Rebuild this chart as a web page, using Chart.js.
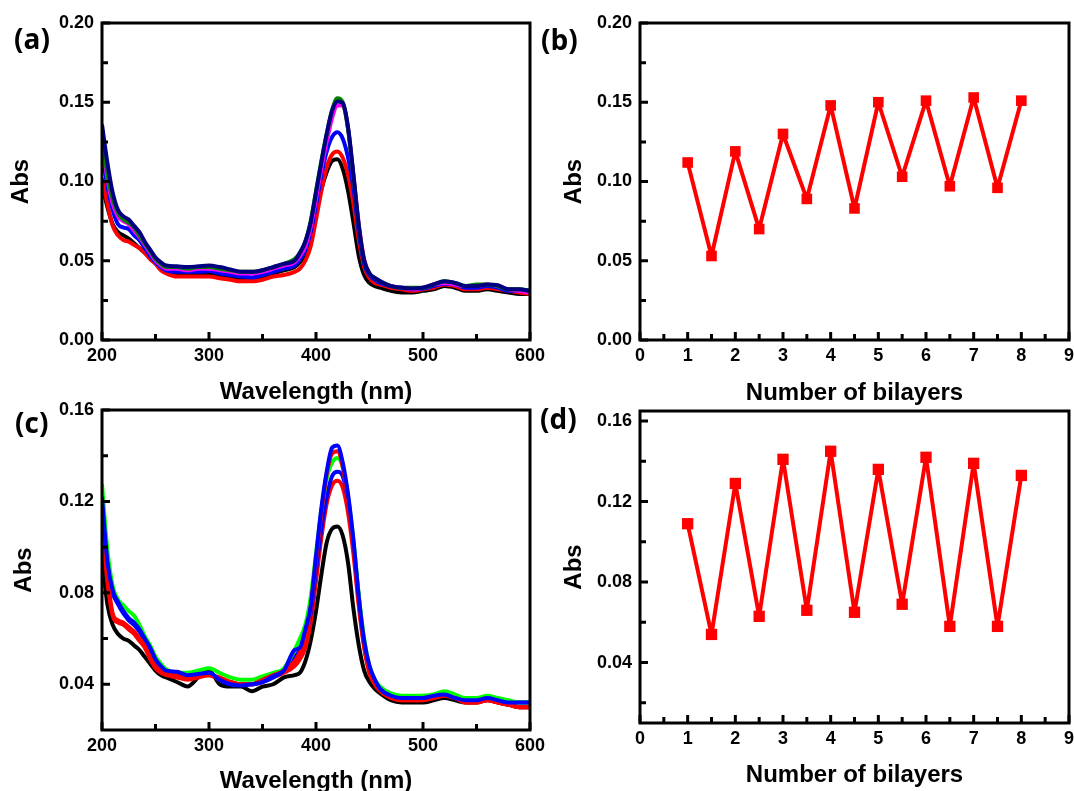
<!DOCTYPE html>
<html>
<head>
<meta charset="utf-8">
<script src="https://cdn.jsdelivr.net/npm/chart.js@4/dist/chart.umd.min.js"></script>
<style>
html, body { margin:0; padding:0; background:#fff; width:1074px; height:791px; overflow:hidden; }
canvas { position:absolute; }
.lbl { position:absolute; font:bold 28px "Open Sans", sans-serif; line-height:1; color:#000; }
</style>
</head>
<body>
<canvas id="ca" width="575" height="420" style="left:0;top:0"></canvas>
<canvas id="cb" width="559" height="420" style="left:545px;top:0"></canvas>
<canvas id="cc" width="575" height="420" style="left:0;top:390px"></canvas>
<canvas id="cd" width="559" height="420" style="left:545px;top:390px"></canvas>
<div class="lbl" style="left:14px;top:24px">(a)</div>
<div class="lbl" style="left:541px;top:25px">(b)</div>
<div class="lbl" style="left:15px;top:408px">(c)</div>
<div class="lbl" style="left:540px;top:404px">(d)</div>
<script>
// wavelengths (nm) shared by panels a and c
const wl = [200,205,210,215,220,225,230,235,240,245,250,255,260,
  270,280,290,300,310,320,330,340,350,360,370,380,
  385,390,395,400,405,410,415,420,425,430,435,440,445,450,455,460,
  470,480,490,500,510,520,530,540,550,560,570,580,590,600];

// panel (a) spectra
const aBlack = [0.098,0.084,0.073,0.068,0.066,0.064,0.061,0.058,0.055,0.052,0.049,0.046,0.044,
  0.042,0.042,0.042,0.042,0.041,0.040,0.039,0.039,0.040,0.042,0.044,0.046,
  0.049,0.054,0.064,0.080,0.095,0.106,0.113,0.114,0.108,0.094,0.074,0.053,0.041,0.036,0.034,0.033,
  0.031,0.030,0.030,0.031,0.032,0.034,0.033,0.031,0.031,0.032,0.031,0.030,0.029,0.029];
const aRed = [0.102,0.086,0.072,0.066,0.063,0.062,0.060,0.058,0.055,0.051,0.048,0.044,0.042,
  0.040,0.040,0.040,0.040,0.039,0.038,0.037,0.037,0.038,0.040,0.041,0.043,
  0.045,0.050,0.059,0.076,0.094,0.109,0.117,0.119,0.115,0.104,0.086,0.063,0.046,0.039,0.036,0.035,
  0.033,0.032,0.031,0.032,0.033,0.035,0.034,0.032,0.032,0.033,0.032,0.031,0.030,0.029];
const aBlue = [0.119,0.097,0.082,0.073,0.071,0.070,0.066,0.063,0.058,0.053,0.049,0.046,0.044,
  0.043,0.043,0.043,0.0435,0.042,0.041,0.040,0.0395,0.041,0.043,0.045,0.047,
  0.051,0.057,0.068,0.085,0.104,0.119,0.128,0.131,0.127,0.115,0.096,0.068,0.048,0.041,0.038,0.036,
  0.034,0.033,0.032,0.0325,0.034,0.0355,0.035,0.033,0.033,0.034,0.033,0.031,0.031,0.030];
const aMagenta = [0.125,0.102,0.086,0.078,0.075,0.073,0.069,0.065,0.060,0.055,0.050,0.047,0.045,
  0.045,0.044,0.045,0.045,0.044,0.043,0.042,0.042,0.043,0.045,0.047,0.049,
  0.053,0.059,0.071,0.089,0.108,0.125,0.140,0.148,0.148,0.133,0.104,0.073,0.051,0.042,0.039,0.037,
  0.034,0.033,0.032,0.033,0.035,0.036,0.035,0.034,0.034,0.035,0.034,0.032,0.031,0.030];
const aGreen = [0.130,0.105,0.089,0.080,0.076,0.074,0.071,0.066,0.061,0.056,0.051,0.048,0.046,
  0.046,0.045,0.046,0.046,0.045,0.044,0.043,0.043,0.044,0.046,0.048,0.051,
  0.055,0.062,0.075,0.094,0.113,0.130,0.145,0.1525,0.150,0.133,0.103,0.072,0.050,0.042,0.039,0.037,
  0.034,0.033,0.033,0.033,0.035,0.037,0.036,0.034,0.035,0.035,0.034,0.032,0.032,0.031];
const aNavy = [0.136,0.112,0.093,0.082,0.078,0.076,0.072,0.068,0.062,0.057,0.052,0.049,0.047,
  0.0465,0.046,0.0465,0.047,0.046,0.0445,0.043,0.043,0.044,0.046,0.048,0.050,
  0.055,0.062,0.074,0.093,0.112,0.130,0.1445,0.1505,0.1495,0.134,0.104,0.072,0.050,0.042,0.039,0.037,
  0.034,0.033,0.0325,0.033,0.035,0.037,0.036,0.034,0.034,0.035,0.0345,0.032,0.032,0.031];

// panel (c) spectra
const cBlack = [0.096,0.075,0.066,0.062,0.060,0.059,0.057,0.055,0.052,0.049,0.046,0.044,0.043,
  0.041,0.039,0.043,0.046,0.040,0.039,0.039,0.037,0.039,0.040,0.043,0.044,
  0.045,0.050,0.059,0.072,0.088,0.102,0.108,0.109,0.105,0.093,0.073,0.057,0.046,0.041,0.038,0.036,
  0.033,0.032,0.032,0.032,0.033,0.034,0.033,0.032,0.032,0.033,0.032,0.031,0.030,0.030];
const cRed2 = [0.110,0.085,0.070,0.067,0.066,0.064,0.062,0.059,0.056,0.051,0.047,0.045,0.044,
  0.043,0.042,0.043,0.044,0.042,0.041,0.040,0.040,0.041,0.043,0.045,0.048,
  0.051,0.056,0.067,0.085,0.104,0.119,0.127,0.129,0.126,0.115,0.097,0.074,0.056,0.045,0.040,0.037,
  0.034,0.033,0.033,0.033,0.034,0.035,0.034,0.032,0.032,0.033,0.032,0.031,0.030,0.030];
const cBlue2 = [0.118,0.092,0.080,0.075,0.071,0.068,0.066,0.063,0.059,0.055,0.050,0.047,0.046,
  0.045,0.044,0.044,0.045,0.042,0.040,0.040,0.040,0.041,0.043,0.046,0.052,
  0.055,0.062,0.071,0.090,0.108,0.122,0.131,0.133,0.131,0.120,0.101,0.078,0.058,0.047,0.041,0.038,
  0.035,0.034,0.034,0.034,0.035,0.0355,0.034,0.033,0.033,0.034,0.033,0.032,0.032,0.032];
const cGreen = [0.1275,0.099,0.083,0.077,0.0745,0.072,0.070,0.066,0.061,0.057,0.052,0.049,0.0465,
  0.045,0.045,0.046,0.047,0.045,0.043,0.042,0.042,0.0435,0.045,0.047,0.055,
  0.060,0.066,0.078,0.097,0.116,0.130,0.137,0.139,0.135,0.122,0.103,0.079,0.060,0.048,0.042,0.039,
  0.036,0.035,0.035,0.035,0.0355,0.037,0.0355,0.034,0.034,0.035,0.034,0.033,0.032,0.032];
const cRed1 = [0.114,0.088,0.071,0.068,0.067,0.065,0.063,0.060,0.057,0.052,0.048,0.046,0.045,
  0.044,0.043,0.044,0.044,0.043,0.041,0.040,0.040,0.042,0.044,0.046,0.050,
  0.054,0.060,0.073,0.094,0.115,0.132,0.141,0.142,0.135,0.120,0.100,0.076,0.057,0.045,0.040,0.037,
  0.034,0.033,0.033,0.033,0.034,0.035,0.034,0.032,0.032,0.033,0.032,0.031,0.030,0.030];
const cBlue1 = [0.122,0.094,0.081,0.076,0.072,0.069,0.067,0.064,0.060,0.056,0.051,0.048,0.046,
  0.0455,0.044,0.0445,0.045,0.042,0.040,0.0395,0.040,0.041,0.0435,0.046,0.055,
  0.056,0.064,0.074,0.096,0.117,0.133,0.1435,0.1445,0.137,0.123,0.103,0.078,0.059,0.048,0.042,0.038,
  0.035,0.034,0.034,0.034,0.035,0.0355,0.034,0.033,0.033,0.034,0.033,0.032,0.032,0.032];

// panels (b) and (d): peak absorbance vs number of bilayers
const bilayers = [1,1.5,2,2.5,3,3.5,4,4.5,5,5.5,6,6.5,7,7.5,8];
const absB = [0.112,0.053,0.119,0.070,0.130,0.089,0.148,0.083,0.150,0.103,0.151,0.097,0.153,0.096,0.151];
const absD = [0.109,0.054,0.129,0.063,0.141,0.066,0.145,0.065,0.136,0.069,0.142,0.058,0.139,0.058,0.133];

// tick positions
const wlTicks = [200,300,400,500,600];
const wlMinor = [250,350,450,550];
const layerTicks = [0,1,2,3,4,5,6,7,8,9];
const layerMinor = [0.5,1.5,2.5,3.5,4.5,5.5,6.5,7.5,8.5];
const absTicksAB = [0,0.05,0.10,0.15,0.20];
const absMinorAB = [0.025,0.075,0.125,0.175];
const absTicksCD = [0.04,0.08,0.12,0.16];
const absMinorC = [0.06,0.10,0.14];
const absMinorD = [0.02,0.06,0.10,0.14];

const FONT = '"Liberation Sans", Arial, sans-serif';

// box frame + inward ticks like the original plot
const frame = {
  id: 'frame',
  afterDraw(chart, args, o) {
    const { ctx, chartArea: a, scales: { x, y } } = chart;
    ctx.save();
    ctx.strokeStyle = '#000';
    ctx.lineWidth = 3;
    ctx.beginPath();
    const xt = (vals, len) => vals.forEach(v => {
      const px = x.getPixelForValue(v);
      ctx.moveTo(px, a.bottom); ctx.lineTo(px, a.bottom - len);
    });
    const yt = (vals, len) => vals.forEach(v => {
      const py = y.getPixelForValue(v);
      ctx.moveTo(a.left, py); ctx.lineTo(a.left + len, py);
    });
    xt(o.xMajor, 8); xt(o.xMinor, 6);
    yt(o.yMajor, 8); yt(o.yMinor, 6);
    ctx.stroke();
    ctx.strokeRect(a.left, a.top, a.right - a.left, a.bottom - a.top);
    ctx.restore();
  }
};

function makeChart(id, p, datasets) {
  return new Chart(document.getElementById(id), {
    type: 'line',
    data: { datasets },
    plugins: [frame],
    options: {
      responsive: false, animation: false, devicePixelRatio: 1,
      layout: { padding: p.pad },
      plugins: {
        legend: { display: false }, tooltip: { enabled: false },
        frame: { xMajor: p.xTicks, xMinor: p.xMinor, yMajor: p.yTicks, yMinor: p.yMinor }
      },
      scales: {
        x: {
          type: 'linear', min: p.xMin, max: p.xMax,
          grid: { display: false, drawTicks: false }, border: { display: false },
          afterBuildTicks: s => { s.ticks = p.xTicks.map(v => ({ value: v })); },
          afterFit: s => { s.height = p.xh; },
          ticks: { color: '#000', padding: 5, maxRotation: 0, autoSkip: false,
            font: { family: FONT, size: 18, weight: 'bold' }, callback: v => String(v) },
          title: { display: true, text: p.xTitle, color: '#000',
            font: { family: FONT, size: 24, weight: 'bold' }, padding: { top: 0, bottom: p.xtb } }
        },
        y: {
          type: 'linear', min: p.yMin, max: p.yMax,
          grid: { display: false, drawTicks: false }, border: { display: false },
          afterBuildTicks: s => { s.ticks = p.yTicks.map(v => ({ value: v })); },
          afterFit: s => { s.width = p.yw; },
          ticks: { color: '#000', padding: 8, autoSkip: false,
            font: { family: FONT, size: 18, weight: 'bold' }, callback: v => v.toFixed(2) },
          title: { display: true, text: 'Abs', color: '#000',
            font: { family: FONT, size: 24, weight: 'bold' }, padding: { top: p.ytp, bottom: 0 } }
        }
      }
    }
  });
}

// first dataset ends up on top
function spectrum(vals, color) {
  return { data: wl.map((x, i) => ({ x, y: vals[i] })), borderColor: color, borderWidth: 4,
    pointRadius: 0, cubicInterpolationMode: 'monotone', borderJoinStyle: 'round', fill: false };
}
function layers(vals, r) {
  return { data: bilayers.map((x, i) => ({ x, y: vals[i] })), borderColor: '#ff0000', borderWidth: 4,
    borderJoinStyle: 'round', backgroundColor: '#ff0000', pointStyle: 'rect', pointRadius: r,
    pointBorderWidth: 0, pointBackgroundColor: '#ff0000', fill: false };
}

makeChart('ca', {
  pad: { left: 0, top: 23, right: 45, bottom: 0 }, yw: 102, xh: 80, ytp: 7, xtb: 13,
  xMin: 200, xMax: 600, xTicks: wlTicks, xMinor: wlMinor, xTitle: 'Wavelength (nm)',
  yMin: 0, yMax: 0.2, yTicks: absTicksAB, yMinor: absMinorAB
}, [spectrum(aNavy, '#000080'), spectrum(aGreen, '#008000'), spectrum(aMagenta, '#ff00ff'),
    spectrum(aBlue, '#0000ff'), spectrum(aRed, '#ff0000'), spectrum(aBlack, '#000000')]);

makeChart('cb', {
  pad: { left: 0, top: 23, right: 35, bottom: 0 }, yw: 95, xh: 80, ytp: 15, xtb: 12,
  xMin: 0, xMax: 9, xTicks: layerTicks, xMinor: layerMinor, xTitle: 'Number of bilayers',
  yMin: 0, yMax: 0.2, yTicks: absTicksAB, yMinor: absMinorAB
}, [layers(absB, 7.5)]);

makeChart('cc', {
  pad: { left: 0, top: 20, right: 45, bottom: 0 }, yw: 102, xh: 80, ytp: 10, xtb: 14,
  xMin: 200, xMax: 600, xTicks: wlTicks, xMinor: wlMinor, xTitle: 'Wavelength (nm)',
  yMin: 0.02, yMax: 0.16, yTicks: absTicksCD, yMinor: absMinorC
}, [spectrum(cBlue1, '#0000ff'), spectrum(cRed1, '#ff0000'), spectrum(cGreen, '#00ff00'),
    spectrum(cBlue2, '#0000ff'), spectrum(cRed2, '#ff0000'), spectrum(cBlack, '#000000')]);

makeChart('cd', {
  pad: { left: 0, top: 21, right: 35, bottom: 0 }, yw: 95, xh: 87, ytp: 15, xtb: 20,
  xMin: 0, xMax: 9, xTicks: layerTicks, xMinor: layerMinor, xTitle: 'Number of bilayers',
  yMin: 0.01, yMax: 0.165, yTicks: absTicksCD, yMinor: absMinorD
}, [layers(absD, 8)]);
</script>
</body>
</html>
